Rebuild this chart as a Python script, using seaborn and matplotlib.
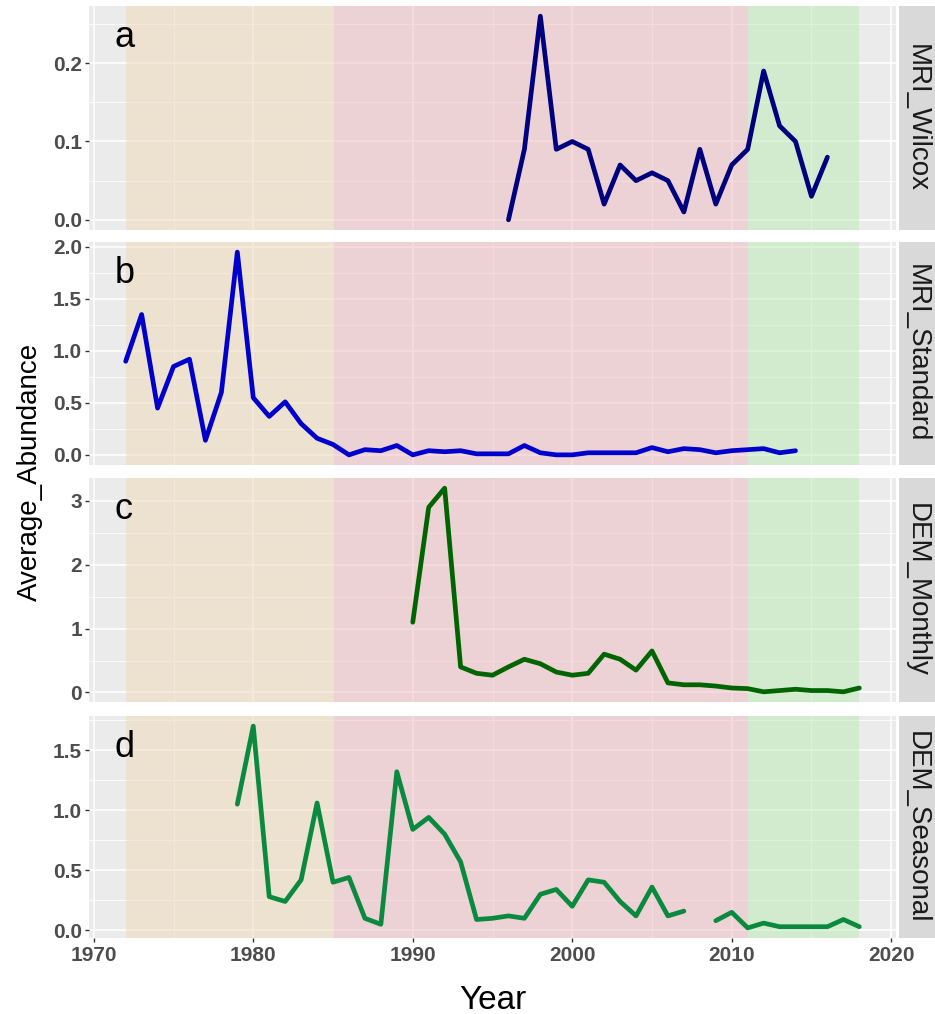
import numpy as np
import pandas as pd
import matplotlib
matplotlib.use("Agg")
import matplotlib.pyplot as plt
from matplotlib.ticker import MultipleLocator, FormatStrFormatter
import seaborn as sns

sns.set_theme(style="white")
plt.rcParams['font.family'] = ['Liberation Sans', 'DejaVu Sans']

# ---------------- data ----------------
years_wilcox = list(range(1996, 2017))
wilcox = [0.0, 0.09, 0.26, 0.09, 0.10, 0.09, 0.02, 0.07, 0.05, 0.06, 0.05,
          0.01, 0.09, 0.02, 0.07, 0.09, 0.19, 0.12, 0.10, 0.03, 0.08]

years_standard = list(range(1972, 2015))
standard = [0.90, 1.35, 0.45, 0.85, 0.92, 0.14, 0.60, 1.95, 0.55, 0.37,
            0.51, 0.30, 0.16, 0.10, 0.00, 0.05, 0.04, 0.09, 0.00, 0.04,
            0.03, 0.04, 0.01, 0.01, 0.01, 0.09, 0.02, 0.00, 0.00, 0.02,
            0.02, 0.02, 0.02, 0.07, 0.03, 0.06, 0.05, 0.02, 0.04, 0.05,
            0.06, 0.02, 0.04]

years_monthly = list(range(1990, 2019))
monthly = [1.10, 2.90, 3.20, 0.40, 0.30, 0.27, 0.40, 0.52, 0.45, 0.32,
           0.27, 0.30, 0.60, 0.52, 0.35, 0.65, 0.15, 0.12, 0.12, 0.10,
           0.07, 0.06, 0.01, 0.03, 0.05, 0.03, 0.03, 0.01, 0.07]

years_seasonal = list(range(1979, 2019))
seasonal = [1.05, 1.70, 0.28, 0.24, 0.42, 1.06, 0.40, 0.44, 0.10, 0.05,
            1.32, 0.84, 0.94, 0.80, 0.57, 0.09, 0.10, 0.12, 0.10, 0.30,
            0.34, 0.20, 0.42, 0.40, 0.24, 0.12, 0.36, 0.12, 0.16, np.nan,
            0.08, 0.15, 0.02, 0.06, 0.03, 0.03, 0.03, 0.03, 0.09, 0.03]

panel_names = ["MRI_Wilcox", "MRI_Standard", "DEM_Monthly", "DEM_Seasonal"]
panel_letters = ["a", "b", "c", "d"]
panel_colors = ["#00007F", "#0000CC", "#006400", "#0A8A3E"]
ytick_steps = [0.1, 0.5, 1.0, 0.5]
ytick_formats = ["%.1f", "%.1f", "%.0f", "%.1f"]

period_starts = [1972, 1985, 2011]
period_ends = [1985, 2011, 2018]
period_colors = ["#EFD9B7", "#EFBBC1", "#BBEBB3"]

x_ticks = [1970, 1980, 1990, 2000, 2010, 2020]

series = [(years_wilcox, wilcox), (years_standard, standard),
          (years_monthly, monthly), (years_seasonal, seasonal)]

# ---------------- figure ----------------
W, H = 935, 1014
fig = plt.figure(figsize=(W / 100, H / 100), dpi=100)

left_px, right_px = 89, 896
strip_l, strip_r = 899, 935
panel_y = [(6, 230), (242, 465), (478, 702), (716, 938)]

xlo, xhi = 1969.7, 2020.3
tick_col = "#4D4D4D"

for i, (name, (yrs, vals)) in enumerate(zip(panel_names, series)):
    top, bot = panel_y[i]
    ax = fig.add_axes([left_px / W, 1 - bot / H, (right_px - left_px) / W, (bot - top) / H])
    ax.set_facecolor("#EBEBEB")

    vals_arr = np.array(vals, dtype=float)
    seg = np.cumsum(np.isnan(vals_arr))
    df = pd.DataFrame({"Year": yrs, "Average_Abundance": vals_arr, "seg": seg}).dropna()

    for s, e, c in zip(period_starts, period_ends, period_colors):
        ax.axvspan(s, e, color=c, alpha=0.5, lw=0, zorder=1)

    sns.lineplot(data=df, x="Year", y="Average_Abundance", units="seg",
                 estimator=None, color=panel_colors[i], lw=3.4, ax=ax,
                 zorder=3, legend=False)

    vmin, vmax = np.nanmin(vals_arr), np.nanmax(vals_arr)
    rng = vmax - vmin
    ax.set_ylim(vmin - 0.05 * rng, vmax + 0.05 * rng)
    ax.set_xlim(xlo, xhi)

    ax.xaxis.set_major_locator(MultipleLocator(10))
    ax.xaxis.set_minor_locator(MultipleLocator(5))
    ax.yaxis.set_major_locator(MultipleLocator(ytick_steps[i]))
    ax.yaxis.set_minor_locator(MultipleLocator(ytick_steps[i] / 2))
    ax.yaxis.set_major_formatter(FormatStrFormatter(ytick_formats[i]))

    ax.grid(which="major", color="white", lw=1.1, zorder=0)
    ax.grid(which="minor", color="white", lw=0.55, zorder=0)
    ax.set_axisbelow(True)
    for sp in ax.spines.values():
        sp.set_visible(False)

    ax.tick_params(axis="y", which="major", length=3, width=1, color="#333333",
                   labelsize=15, labelcolor=tick_col, pad=2, left=True)
    ax.tick_params(axis="y", which="minor", length=0)
    ax.tick_params(axis="x", which="minor", length=0)
    for lab in ax.get_yticklabels():
        lab.set_fontweight("bold")
    if i == 3:
        ax.set_xticks(x_ticks)
        ax.tick_params(axis="x", which="major", length=3, width=1, color="#333333",
                       labelsize=15, labelcolor=tick_col, pad=3, bottom=True)
        for lab in ax.get_xticklabels():
            lab.set_fontweight("bold")
        ax.set_xlabel("Year", fontsize=24, color="black", labelpad=14)
    else:
        ax.tick_params(axis="x", which="major", length=0, labelbottom=False)
        ax.set_xlabel("")
    ax.set_ylabel("")

    ax.text(0.032, 0.86, panel_letters[i], transform=ax.transAxes,
            fontsize=26, color="black", ha="left", va="center", zorder=5)

    # facet strip
    sax = fig.add_axes([strip_l / W, 1 - bot / H, (strip_r - strip_l) / W, (bot - top) / H])
    sax.set_facecolor("#D9D9D9")
    sax.set_xticks([])
    sax.set_yticks([])
    for sp in sax.spines.values():
        sp.set_visible(False)
    sax.text(0.5, 0.5, name, rotation=-90, ha="center", va="center",
             fontsize=20, color="#1A1A1A", transform=sax.transAxes)

fig.text(30 / W, 1 - 472 / H, "Average_Abundance", rotation=90,
         ha="center", va="center", fontsize=20, color="black")

fig.savefig("out.png", dpi=100)
